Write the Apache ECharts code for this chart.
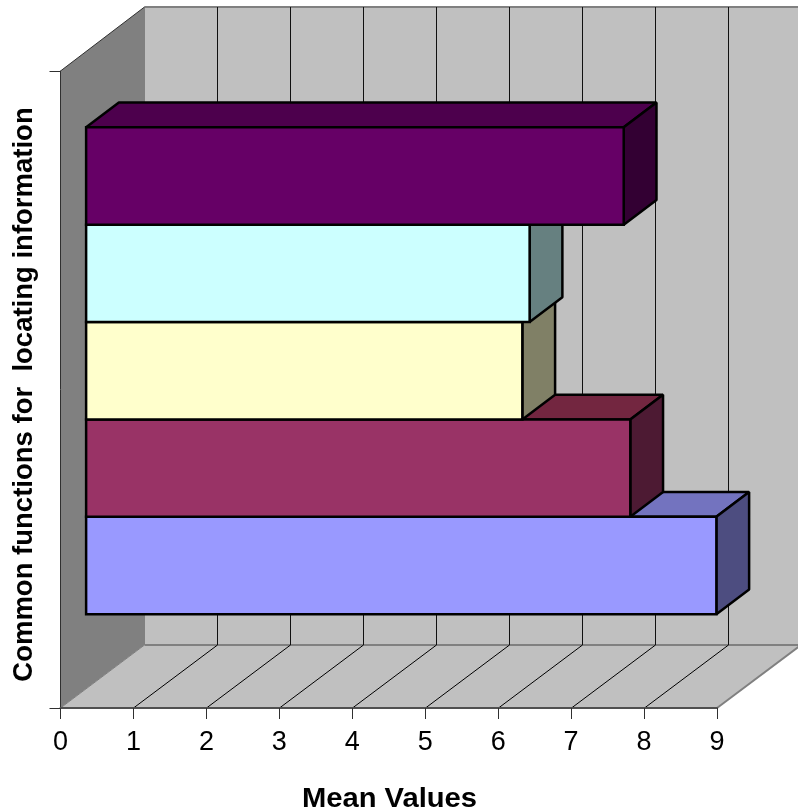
<!DOCTYPE html>
<html>
<head>
<meta charset="utf-8">
<style>html,body{margin:0;padding:0;background:#fff}#chart{width:798px;height:811px}</style>
<script src="https://cdn.jsdelivr.net/npm/echarts@6/dist/echarts.min.js"></script>
</head>
<body>
<div id="chart"></div>
<script>
// Five function groups, listed from the lowest bar to the highest.
const categories = [''];
const meanValues = [8.64, 7.46, 5.98, 6.08, 7.37];
const frontColors = ['#9999FF', '#993366', '#FFFFCC', '#CCFFFF', '#660066'];
const topColors = ['#7373BF', '#732640', '#BFBF99', '#99BFBF', '#4D004D'];
const sideColors = ['#4D4D80', '#4D1A33', '#808066', '#668080', '#330033'];
const valueTicks = [0, 1, 2, 3, 4, 5, 6, 7, 8, 9];
const xTitle = 'Mean Values';
const yTitle = 'Common functions for  locating information';

// Oblique projection of the chart box.
const BOX_DX = 84, BOX_DY = 63.5;
const BAR_DEPTH = 0.39;            // share of the box depth a bar occupies
const GAP_BARS = 1.54;             // cluster gap, in bar thicknesses

const wallLine = '#808080';

function poly(points, fill, lineWidth, stroke, join) {
  return {
    type: 'polygon',
    shape: { points },
    style: { fill, stroke: stroke || 'none', lineWidth: lineWidth || 0, lineJoin: join || 'miter' }
  };
}
function seg(x1, y1, x2, y2, stroke, lineWidth) {
  return { type: 'line', shape: { x1, y1, x2, y2 }, style: { stroke, lineWidth } };
}

// Side wall, back wall and floor.
function renderWalls(params) {
  const g = params.coordSys;
  const L = g.x, R = g.x + g.width, T = g.y, B = g.y + g.height;
  const dx = BOX_DX;
  const wallTop = Math.floor(T - BOX_DY), wallBottom = Math.ceil(B - BOX_DY);
  return {
    type: 'group',
    children: [
      poly([[L + dx, wallTop], [R + dx, wallTop], [R + dx, wallBottom], [L + dx, wallBottom]], '#C0C0C0'),
      poly([[L, T], [L + dx, wallTop], [L + dx, wallBottom], [L, B]], '#808080'),
      poly([[L, B], [L + dx, wallBottom], [R + dx, wallBottom], [R, B]], '#C0C0C0'),
      seg(L + dx, wallTop, R + dx, wallTop, wallLine, 2),
      seg(L + dx, wallTop, L + dx, wallBottom, wallLine, 1),
      seg(L + dx, wallBottom, R + dx, wallBottom, wallLine, 2),
      seg(L, B, L + dx, wallBottom, wallLine, 1),
      seg(R, B, R + dx, wallBottom, wallLine, 2),
      seg(L, T, L + dx, wallTop, '#303030', 1)
    ]
  };
}

// Gridlines running across the floor and up the back wall.
function renderGrid(params, api) {
  const v = api.value(0);
  if (v === 0 || v === valueTicks[valueTicks.length - 1]) return { type: 'group', children: [] };
  const g = params.coordSys;
  const T = g.y, B = g.y + g.height;
  const wallTop = Math.floor(T - BOX_DY), wallBottom = Math.ceil(B - BOX_DY);
  const x = Math.round(api.coord([v, 0])[0]) + 0.5;
  return {
    type: 'group',
    children: [
      seg(x, B, x + BOX_DX, wallBottom, '#000', 1),
      seg(x + BOX_DX, wallTop, x + BOX_DX, wallBottom, '#101010', 1)
    ]
  };
}

// One bar of the cluster: top face, side face, then front face.
function renderBar(params, api) {
  const i = params.dataIndex;
  const count = meanValues.length;
  const v = api.value(0);
  const cat = api.value(1);
  const band = api.size([0, 1])[1];
  const centerY = api.coord([0, cat])[1];
  const thick = band / (count + GAP_BARS);
  const shiftX = BOX_DX * 0.305, shiftY = BOX_DY * 0.295;
  const depthX = BOX_DX * BAR_DEPTH, depthY = BOX_DY * BAR_DEPTH;

  const x0 = api.coord([0, cat])[0] + shiftX;
  const x1 = api.coord([v, cat])[0] + shiftX;
  const y1 = centerY + thick * count / 2 - thick * i - shiftY;
  const y0 = y1 - thick;
  const lw = 2.5;
  return {
    type: 'group',
    children: [
      poly([[x0, y0], [x0 + depthX, y0 - depthY], [x1 + depthX, y0 - depthY], [x1, y0]], topColors[i], lw, '#000', 'bevel'),
      poly([[x1, y0], [x1 + depthX, y0 - depthY], [x1 + depthX, y1 - depthY], [x1, y1]], sideColors[i], lw, '#000', 'bevel'),
      poly([[x0, y0], [x1, y0], [x1, y1], [x0, y1]], frontColors[i], lw, '#000')
    ]
  };
}

const chart = echarts.init(document.getElementById('chart'), null, { renderer: 'canvas' });
chart.setOption({
  animation: false,
  backgroundColor: '#fff',
  grid: { left: 60.5, top: 71, width: 656.5, height: 637, containLabel: false, outerBoundsMode: 'none' },
  xAxis: {
    type: 'value',
    min: 0,
    max: 9,
    interval: 1,
    z: 5,
    axisLine: { show: true, onZero: false, lineStyle: { color: '#505050', width: 2 } },
    axisTick: { show: true, length: 11, lineStyle: { color: '#303030', width: 1 } },
    axisLabel: { fontFamily: 'Liberation Sans', fontSize: 27, color: '#000', margin: 21 },
    splitLine: { show: false }
  },
  yAxis: {
    type: 'category',
    data: categories,
    z: 5,
    axisLine: { show: true, onZero: false, lineStyle: { color: '#303030', width: 1 } },
    axisTick: { show: true, length: 11, lineStyle: { color: '#303030', width: 1 } },
    axisLabel: { show: false },
    splitLine: { show: false }
  },
  graphic: [
    {
      type: 'text',
      x: 389.5,
      y: 799.5,
      scaleX: 1.08,
      silent: true,
      style: {
        text: xTitle,
        font: 'bold 27px "Liberation Sans"',
        fill: '#000',
        textAlign: 'center',
        textVerticalAlign: 'middle'
      }
    },
    {
      type: 'text',
      x: 24,
      y: 394.5,
      rotation: Math.PI / 2,
      silent: true,
      style: {
        text: yTitle,
        font: 'bold 27.5px "Liberation Sans"',
        fill: '#000',
        textAlign: 'center',
        textVerticalAlign: 'middle'
      }
    }
  ],
  series: [
    {
      type: 'custom',
      name: 'walls',
      z: 1,
      clip: false,
      silent: true,
      renderItem: renderWalls,
      encode: { x: 0, y: 1 },
      data: [[0, 0]]
    },
    {
      type: 'custom',
      name: 'gridlines',
      z: 2,
      clip: false,
      silent: true,
      renderItem: renderGrid,
      encode: { x: 0, y: 1 },
      data: valueTicks.map(function (t) { return [t, 0]; })
    },
    {
      type: 'custom',
      name: 'mean values',
      z: 3,
      clip: false,
      renderItem: renderBar,
      encode: { x: 0, y: 1 },
      data: meanValues.map(function (m) { return [m, 0]; })
    }
  ]
});
</script>
</body>
</html>
